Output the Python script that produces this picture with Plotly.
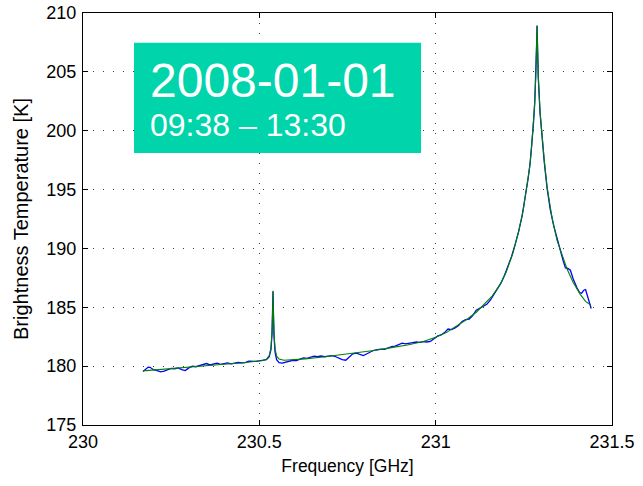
import plotly.graph_objects as go

# Measured spectrum (blue)
meas_freq = [
    230.170, 230.175, 230.180, 230.185, 230.190, 230.200, 230.210, 230.220, 230.230, 230.240,
    230.250, 230.260, 230.270, 230.280, 230.290, 230.300, 230.310, 230.320, 230.330, 230.340,
    230.350, 230.360, 230.370, 230.380, 230.390, 230.400, 230.410, 230.420, 230.430, 230.440,
    230.450, 230.460, 230.470, 230.480, 230.490, 230.500, 230.510, 230.520, 230.528, 230.533,
    230.536, 230.538, 230.5388, 230.5396, 230.5415, 230.5445, 230.549, 230.556, 230.565, 230.575,
    230.585, 230.595, 230.605, 230.615, 230.625, 230.635, 230.645, 230.655, 230.665, 230.675,
    230.685, 230.695, 230.705, 230.715, 230.725, 230.735, 230.745, 230.755, 230.765, 230.775,
    230.785, 230.795, 230.805, 230.815, 230.825, 230.835, 230.845, 230.855, 230.865, 230.875,
    230.885, 230.895, 230.905, 230.915, 230.925, 230.935, 230.945, 230.955, 230.965, 230.975,
    230.985, 230.995, 231.005, 231.015, 231.025, 231.035, 231.045, 231.055, 231.065, 231.075,
    231.085, 231.095, 231.105, 231.115, 231.125, 231.135, 231.145, 231.155, 231.165, 231.175,
    231.185, 231.195, 231.205, 231.215, 231.225, 231.235, 231.245, 231.255, 231.262, 231.268,
    231.273, 231.277, 231.281, 231.2845, 231.2865, 231.2875, 231.2885, 231.291, 231.296, 231.301,
    231.308, 231.316, 231.325, 231.335, 231.345, 231.355, 231.362, 231.368, 231.375, 231.382,
    231.390, 231.400, 231.408, 231.414, 231.420, 231.425, 231.430, 231.436, 231.441,
]
meas_temp = [
    179.55, 179.70, 179.78, 179.92, 179.90, 179.70, 179.62, 179.52, 179.58, 179.72,
    179.80, 179.78, 179.85, 179.70, 179.62, 179.85, 180.00, 179.95, 180.05, 180.18,
    180.22, 180.10, 180.20, 180.25, 180.15, 180.22, 180.28, 180.20, 180.25, 180.32,
    180.28, 180.30, 180.42, 180.38, 180.40, 180.45, 180.50, 180.55, 180.80, 181.40,
    182.80, 185.10, 186.35, 185.00, 182.60, 181.20, 180.55, 180.30, 180.25, 180.32,
    180.45, 180.50, 180.48, 180.62, 180.70, 180.66, 180.78, 180.85, 180.80, 180.86,
    180.80, 180.88, 180.90, 180.82, 180.70, 180.55, 180.50, 180.75, 181.05, 181.10,
    181.00, 180.90, 181.05, 181.20, 181.35, 181.40, 181.45, 181.42, 181.55, 181.65,
    181.70, 181.80, 181.95, 181.90, 181.92, 182.00, 182.05, 182.02, 182.08, 182.05,
    182.10, 182.35, 182.55, 182.65, 182.85, 183.15, 183.10, 183.25, 183.45, 183.80,
    183.95, 184.00, 184.30, 184.75, 184.90, 185.05, 185.25, 185.60, 186.10, 186.60,
    187.05, 187.70, 188.45, 189.30, 190.30, 191.40, 192.75, 194.50, 195.90, 197.30,
    198.90, 200.50, 202.40, 204.90, 207.60, 208.90, 207.40, 204.50, 201.50, 199.70,
    197.30, 195.10, 193.30, 191.90, 190.70, 189.60, 188.90, 188.35, 188.30, 188.15,
    187.40, 186.70, 186.25, 186.20, 186.45, 186.50, 186.00, 185.40, 184.90,
]

# Model fit (green)
fit_freq = [
    230.170, 230.200, 230.250, 230.300, 230.350, 230.400, 230.450, 230.490, 230.510, 230.520,
    230.528, 230.533, 230.536, 230.538, 230.5388, 230.5396, 230.5415, 230.5445, 230.549, 230.556,
    230.570, 230.590, 230.630, 230.680, 230.730, 230.780, 230.830, 230.870, 230.920, 230.965,
    231.000, 231.030, 231.060, 231.090, 231.116, 231.140, 231.160, 231.182, 231.200, 231.219,
    231.235, 231.248, 231.259, 231.267, 231.272, 231.276, 231.280, 231.284, 231.2865, 231.2875,
    231.2885, 231.291, 231.296, 231.301, 231.308, 231.316, 231.330, 231.344, 231.358, 231.372,
    231.390, 231.410, 231.425, 231.440,
]
fit_temp = [
    179.60, 179.68, 179.82, 179.95, 180.05, 180.16, 180.27, 180.38, 180.48, 180.58,
    180.90, 181.55, 182.90, 185.00, 186.40, 185.00, 182.90, 181.50, 180.85, 180.60,
    180.50, 180.52, 180.62, 180.78, 180.95, 181.15, 181.35, 181.55, 181.80, 182.10,
    182.45, 182.85, 183.40, 184.00, 184.60, 185.30, 185.95, 186.90, 188.00, 189.60,
    191.40, 193.20, 195.20, 197.00, 198.60, 200.10, 202.00, 204.60, 207.50, 208.95,
    207.50, 204.60, 201.60, 199.80, 197.50, 195.20, 192.60, 190.70, 189.40, 188.30,
    187.10, 186.10, 185.50, 185.20,
]

x_ticks = [230, 230.5, 231, 231.5]
x_tick_text = ["230", "230.5", "231", "231.5"]
y_ticks = [175, 180, 185, 190, 195, 200, 205, 210]

date_label = "2008-01-01"
time_label = "09:38 \u2013 13:30"

FONT = "Liberation Sans, Arial, Helvetica, sans-serif"

fig = go.Figure()
fig.add_trace(go.Scatter(x=meas_freq, y=meas_temp, mode="lines",
                         line=dict(color="rgb(0,0,255)", width=1.3),
                         hoverinfo="skip", showlegend=False))
fig.add_trace(go.Scatter(x=fit_freq, y=fit_temp, mode="lines",
                         line=dict(color="rgb(0,128,0)", width=1.1),
                         hoverinfo="skip", showlegend=False))

axis_common = dict(
    showline=True, linecolor="black", linewidth=1, mirror="ticks",
    ticks="inside", ticklen=5, tickcolor="black", tickwidth=1,
    showgrid=True, gridcolor="rgb(60,60,60)", gridwidth=1, griddash="1px,9px",
    zeroline=False, automargin=False,
    tickfont=dict(family=FONT, size=18, color="black"),
)

fig.update_xaxes(range=[230, 231.5], tickvals=x_ticks, ticktext=x_tick_text,
                 ticklabelstandoff=0,
                 title=dict(text="Frequency [GHz]", font=dict(family=FONT, size=17.5, color="black"),
                            standoff=9),
                 **axis_common)
fig.update_yaxes(range=[175, 210], tickvals=y_ticks, ticklabelstandoff=2,
                 title=dict(text="Brightness Temperature [K]",
                            font=dict(family=FONT, size=20, color="black"), standoff=12),
                 **axis_common)

# Teal label box with the observation date and time span
fig.add_shape(type="rect", xref="paper", yref="paper",
              x0=0.0964, x1=0.639, y0=0.660, y1=0.928,
              fillcolor="rgb(0,212,170)", line=dict(width=0), layer="above")
fig.add_annotation(xref="paper", yref="paper", x=0.1225, y=0.8354,
                   xanchor="left", yanchor="middle", showarrow=False,
                   text=date_label, font=dict(family=FONT, size=48, color="white"))
fig.add_annotation(xref="paper", yref="paper", x=0.1225, y=0.729,
                   xanchor="left", yanchor="middle", showarrow=False,
                   text=time_label, font=dict(family=FONT, size=32, color="white"))

fig.update_layout(
    width=643, height=486,
    margin=dict(l=83, r=31, t=13, b=61),
    paper_bgcolor="white", plot_bgcolor="white",
    font=dict(family=FONT, color="black"),
)

fig.write_html("out.html", config={"displayModeBar": False})
